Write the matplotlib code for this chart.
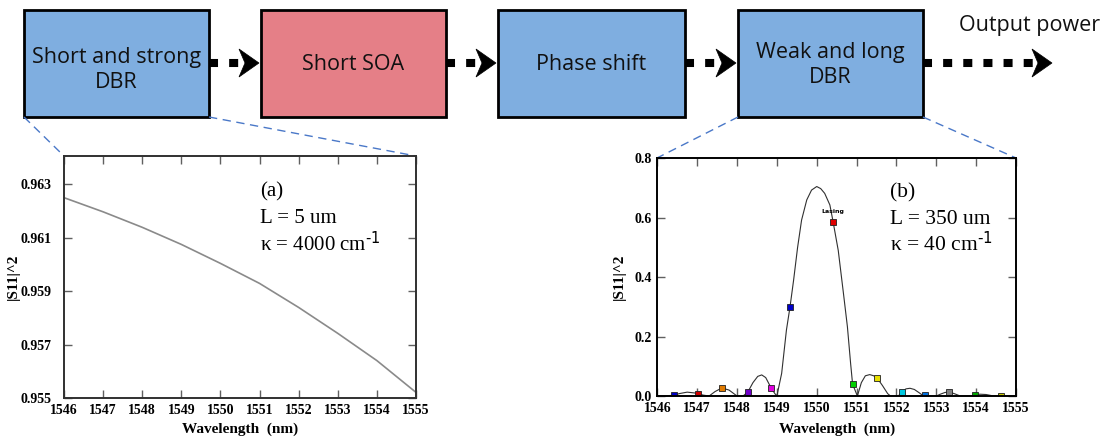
import matplotlib
matplotlib.use("Agg")
import matplotlib.pyplot as plt
from matplotlib.patches import Rectangle, Polygon

plt.rcParams['mathtext.default'] = 'regular'
plt.rcParams['lines.scale_dashes'] = False

# --- data ---
wl_a = [1546, 1547, 1548, 1549, 1550, 1551, 1552, 1553, 1554, 1555]
s11_a = [0.96250, 0.96197, 0.96139, 0.96075, 0.96004, 0.95929, 0.95839, 0.95742, 0.95640, 0.95521]

wl_b = [1546.00, 1546.40, 1546.55, 1546.75, 1546.95, 1547.15, 1547.30, 1547.45, 1547.62, 1547.80,
        1547.95, 1548.00, 1548.15, 1548.27, 1548.40, 1548.52, 1548.62, 1548.72, 1548.86, 1548.95,
        1549.00, 1549.12, 1549.24, 1549.33, 1549.42, 1549.52, 1549.62, 1549.75, 1549.87, 1550.00,
        1550.10, 1550.20, 1550.33, 1550.41, 1550.54, 1550.67, 1550.77, 1550.85, 1550.90, 1551.02,
        1551.12, 1551.22, 1551.33, 1551.43, 1551.52, 1551.65, 1551.78, 1551.85, 1552.05, 1552.13,
        1552.24, 1552.34, 1552.45, 1552.58, 1552.67, 1552.71, 1553.00, 1553.10, 1553.22, 1553.33,
        1553.45, 1553.60, 1553.90, 1553.98, 1554.10, 1554.25, 1554.40, 1554.62, 1555.00]
s11_b = [0.000, 0.002, 0.008, 0.013, 0.010, 0.003, 0.000, 0.015, 0.027, 0.020,
         0.005, 0.000, 0.000, 0.013, 0.045, 0.066, 0.071, 0.062, 0.026, 0.008,
         0.000, 0.076, 0.222, 0.300, 0.390, 0.500, 0.592, 0.660, 0.693, 0.705,
         0.698, 0.682, 0.643, 0.587, 0.490, 0.346, 0.233, 0.110, 0.040, 0.000,
         0.045, 0.068, 0.072, 0.068, 0.060, 0.035, 0.008, 0.000, 0.000, 0.014,
         0.024, 0.026, 0.022, 0.010, 0.001, 0.000, 0.000, 0.006, 0.012, 0.013,
         0.008, 0.000, 0.000, 0.005, 0.006, 0.005, 0.001, 0.000, 0.000]

mk_x = [1546.42, 1547.02, 1547.62, 1548.27, 1548.86, 1549.33, 1550.41,
        1550.90, 1551.52, 1552.13, 1552.71, 1553.33, 1553.98, 1554.62]
mk_y = [0.003, 0.006, 0.027, 0.013, 0.026, 0.300, 0.587,
        0.040, 0.060, 0.015, 0.003, 0.012, 0.005, 0.001]
mk_c = ['#0000c8', '#d00000', '#e07a00', '#7000c8', '#e000e0', '#0000c8', '#e00000',
        '#00d000', '#e8e000', '#00c8e0', '#0070e0', '#808080', '#00a800', '#c8c800']

blocks = ["Short and strong\nDBR", "Short SOA", "Phase shift", "Weak and long\nDBR"]
block_colors = ['#7faee0', '#e57f87', '#7faee0', '#7faee0']

W, H = 1113, 441
fig = plt.figure(figsize=(W / 100, H / 100), dpi=100)

# overlay in pixel coordinates for the block diagram
ov = fig.add_axes([0, 0, 1, 1], zorder=0)
ov.set_xlim(0, W)
ov.set_ylim(H, 0)
ov.axis('off')

box_x = [(24, 209), (261, 446), (498, 685), (738, 923)]
box_y = (9.5, 117)
text_y = [70, 65, 65, 65]
for (x0, x1), lab, col, ty in zip(box_x, blocks, block_colors, text_y):
    ov.add_patch(Rectangle((x0, box_y[0]), x1 - x0, box_y[1] - box_y[0],
                           facecolor=col, edgecolor='black', lw=2))
    ov.text((x0 + x1) / 2, ty, lab, ha='center', va='center', fontsize=15.5,
            family='Open Sans', linespacing=1.2, color='#111111')

def dotted_arrow(x0, tip, y=63, hl=20, hw=28):
    ov.plot([x0, tip - hl + 4], [y, y], color='black', lw=5.8,
            dashes=(6.5, 8), solid_capstyle='butt', dash_capstyle='butt')
    ov.add_patch(Polygon([(tip, y), (tip - hl, y - hw / 2), (tip - hl + 6, y),
                          (tip - hl, y + hw / 2)], closed=True,
                         facecolor='black', edgecolor='black', lw=0.5))

dotted_arrow(209, 259)
dotted_arrow(446, 496)
dotted_arrow(685, 736)
dotted_arrow(923, 1052)
ov.text(1030, 25, "Output power", ha='center', va='center', fontsize=15.5,
        family='Open Sans', color='#111111')

blue_dash = '#4a78c8'
for (xa, ya), (xb, yb) in [((24, 117), (64, 156)), ((209, 117), (416, 156)),
                           ((738, 117), (657, 158)), ((923, 117), (1016, 158))]:
    ov.plot([xa, xb], [ya, yb], color=blue_dash, lw=1.0, ls=(0, (6, 4)))

serif = 'Liberation Serif'

def style(ax, xlab_y, ylab_x, ypad):
    ax.tick_params(direction='in', top=True, right=True, length=6, width=1,
                   color='#606060', labelsize=10, pad=4)
    ax.tick_params(axis='y', pad=ypad)
    for lbl in ax.get_xticklabels() + ax.get_yticklabels():
        lbl.set_family(serif)
        lbl.set_fontweight('bold')
    for sp in ax.spines.values():
        sp.set_linewidth(1.4)
        sp.set_color('#303030')
    ax.set_xlabel("Wavelength  (nm)", family=serif, fontweight='bold', fontsize=11)
    ax.set_ylabel("|S11|^2", family=serif, fontweight='bold', fontsize=11)
    ax.xaxis.set_label_coords(0.5, xlab_y)
    ax.yaxis.set_label_coords(ylab_x, 0.5)

# (a)
axa = fig.add_axes([64 / W, 1 - 398 / H, (416 - 64) / W, (398 - 156) / H], zorder=2)
axa.plot(wl_a, s11_a, color='#8a8a8a', lw=1.2)
axa.set_xlim(1546, 1555)
axa.set_ylim(0.955, 0.96406)
axa.set_xticks(range(1546, 1556))
axa.set_yticks([0.955, 0.957, 0.959, 0.961, 0.963])
axa.set_yticklabels(['0.955', '0.957', '0.959', '0.961', '0.963'])
style(axa, -0.100, -0.125, 9)
for yy, s in zip([0.831, 0.723, 0.612], ["(a)", "L = 5 um", r"κ = 4000 cm$^{\text{-1}}$"]):
    axa.text(0.557, yy, s, transform=axa.transAxes, family=serif, fontsize=15,
             va='baseline', ha='left')

# (b)
axb = fig.add_axes([657.3 / W, 1 - 396 / H, (1016 - 657.3) / W, (396 - 158.3) / H], zorder=2)
axb.plot(wl_b, s11_b, color='#303030', lw=0.8)
for x, y, c in zip(mk_x, mk_y, mk_c):
    axb.plot(x, y, 's', ms=4.3, mfc=c, mec='#202020', mew=0.6)
axb.text(1550.4, 0.612, "Lasing", fontsize=4.5, fontweight='bold', ha='center',
         va='bottom', family='DejaVu Sans')
axb.set_xlim(1546, 1555)
axb.set_ylim(0, 0.8)
axb.set_xticks(range(1546, 1556))
axb.set_yticks([0, 0.2, 0.4, 0.6, 0.8])
axb.set_yticklabels(['0.0', '0.2', '0.4', '0.6', '0.8'])
style(axb, -0.112, -0.087, 4)
for sp in axb.spines.values():
    sp.set_color('black')
for yy, s in zip([0.837, 0.724, 0.614], ["(b)", "L = 350 um", r"κ = 40 cm$^{\text{-1}}$"]):
    axb.text(0.649, yy, s, transform=axb.transAxes, family=serif, fontsize=15.5,
             va='baseline', ha='left')

fig.savefig("out.png", dpi=100)
